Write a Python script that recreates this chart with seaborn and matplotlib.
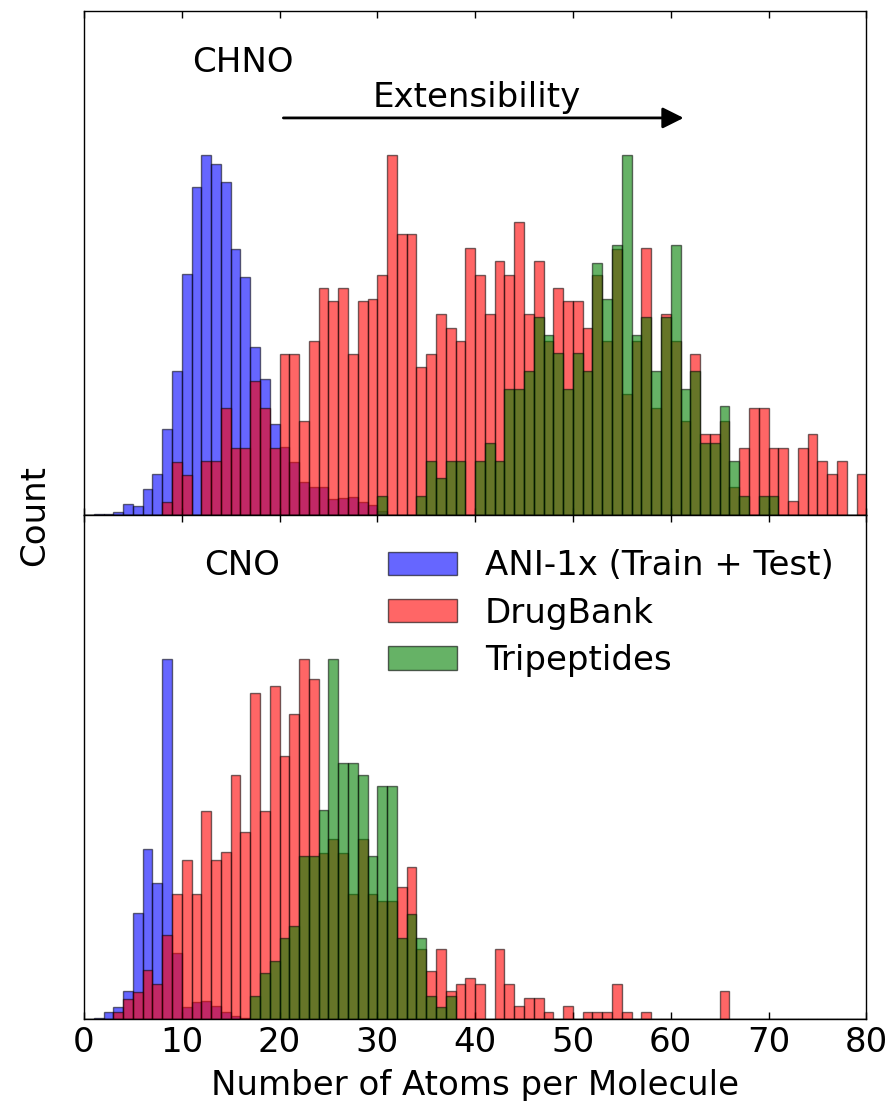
import numpy as np
import pandas as pd
import matplotlib
matplotlib.use('Agg')
import matplotlib.pyplot as plt
from matplotlib.patches import Patch
import seaborn as sns

# bin heights (scaled so that each peak = 1), one bin per atom count 0..79
atoms = np.arange(80)

chno_ani = [0, 0.002, 0.004, 0.009, 0.031, 0.026, 0.072, 0.114, 0.238, 0.40,
            0.67, 0.91, 1.0, 0.975, 0.926, 0.74, 0.66, 0.467, 0.377, 0.254,
            0.19, 0.148, 0.092, 0.077, 0.077, 0.044, 0.048, 0.049, 0.037, 0.028,
            0.01] + [0] * 49
chno_drug = [0] * 8 + [0.035, 0.148, 0.11, 0, 0.15, 0.15, 0.298, 0.187, 0.187, 0.372,
             0.298, 0.187, 0.446, 0.446, 0.261, 0.483, 0.63, 0.594, 0.63, 0.446,
             0.594, 0.60, 0.668, 1.0, 0.78, 0.78, 0.41, 0.446, 0.557, 0.52,
             0.483, 0.741, 0.668, 0.557, 0.705, 0.668, 0.815, 0.557, 0.705, 0.483,
             0.63, 0.594, 0.594, 0.52, 0.668, 0.483, 0.74, 0.335, 0.483, 0.741,
             0.298, 0.557, 0.483, 0.261, 0.446, 0.224, 0.224, 0.261, 0.077, 0.187,
             0.298, 0.298, 0.187, 0.187, 0.04, 0.187, 0.224, 0.15, 0.114, 0.15,
             0, 0.114]
chno_tri = [0] * 30 + [0.054, 0, 0, 0, 0.054, 0.15, 0.102, 0.15, 0.15, 0,
            0.15, 0.2, 0.15, 0.35, 0.35, 0.40, 0.55, 0.50, 0.45, 0.35,
            0.45, 0.40, 0.70, 0.60, 0.75, 1.0, 0.50, 0.55, 0.40, 0.55,
            0.75, 0.35, 0.40, 0.2, 0.2, 0.303, 0.15, 0.054, 0, 0.054,
            0.054] + [0] * 9

cno_ani = [0, 0.004, 0.019, 0.033, 0.079, 0.293, 0.473, 0.377, 1.0, 0.182,
           0.032, 0.046, 0.051, 0.037, 0.019, 0.009, 0.004] + [0] * 63
cno_drug = [0, 0, 0, 0.019, 0.056, 0.074, 0.135, 0.096, 0.232, 0.346,
            0.443, 0.346, 0.578, 0.443, 0.464, 0.677, 0.52, 0.905, 0.578, 0.924,
            0.731, 0.847, 1.0, 0.944, 0.462, 0.50, 0.462, 0.346, 0.50, 0.346,
            0.327, 0.327, 0.366, 0.423, 0.193, 0.134, 0.193, 0.077, 0.097, 0.114,
            0.097, 0, 0.193, 0.097, 0.037, 0.058, 0.058, 0.019, 0, 0.037,
            0, 0.019, 0.019, 0.019, 0.097, 0.019, 0, 0.019, 0, 0,
            0, 0, 0, 0, 0, 0.077] + [0] * 14
cno_tri = [0] * 17 + [0.063, 0.128, 0.16, 0.225, 0.258, 0.453, 0.453, 0.58, 1.0,
           0.71, 0.71, 0.677, 0.453, 0.646, 0.646, 0.225, 0.292, 0.225, 0.065,
           0.032, 0.065] + [0] * 42

labels = ['ANI-1x (Train + Test)', 'DrugBank', 'Tripeptides']
colors = ['#0000ff', '#ff0000', '#008000']

sns.set_theme(style='ticks')
plt.rcParams['font.family'] = ['DejaVu Sans']
plt.rcParams['xtick.direction'] = 'in'
plt.rcParams['ytick.direction'] = 'in'
plt.rcParams['xtick.top'] = True
plt.rcParams['axes.edgecolor'] = 'black'
plt.rcParams['axes.linewidth'] = 1.0
plt.rcParams['text.color'] = 'black'
plt.rcParams['axes.labelcolor'] = 'black'
plt.rcParams['xtick.color'] = 'black'
plt.rcParams['ytick.color'] = 'black'

fs = 24.5
edge = (0, 0, 0, 0.55)
fig, (ax1, ax2) = plt.subplots(2, 1, figsize=(8.94, 11.01), dpi=100, sharex=True)
fig.subplots_adjust(left=0.094, right=0.969, top=0.990, bottom=0.0745, hspace=0)

for ax, sets in [(ax1, [chno_ani, chno_drug, chno_tri]), (ax2, [cno_ani, cno_drug, cno_tri])]:
    for vals, c in zip(sets, colors):
        df = pd.DataFrame({'atoms': atoms + 0.5, 'h': vals})
        sns.histplot(data=df, x='atoms', weights='h', binwidth=1, binrange=(0, 80),
                     color=c, alpha=0.6, edgecolor=edge, linewidth=1.0, ax=ax)
    ax.set_xlim(0, 80)
    ax.set_ylim(0, 1.4)
    ax.set_yticks([])
    ax.set_ylabel('')
    ax.tick_params(axis='x', length=5, width=1, labelsize=fs, pad=5)
    for s in ax.spines.values():
        s.set_visible(True)

ax1.tick_params(axis='x', labelbottom=False)
ax1.set_xlabel('')
ax2.set_xticks(range(0, 81, 10))
ax2.set_xlabel('Number of Atoms per Molecule', fontsize=fs, labelpad=7)

ax1.text(16.2, 1.231, 'CHNO', fontsize=fs, ha='center', va='baseline')
ax2.text(16.2, 1.233, 'CNO', fontsize=fs, ha='center', va='baseline')
ax1.text(40.2, 1.133, 'Extensibility', fontsize=fs, ha='center', va='baseline')
ax1.annotate('', xy=(61.6, 1.103), xytext=(20.1, 1.103),
             arrowprops=dict(arrowstyle='-|>', color='black', lw=2, mutation_scale=32))

fig.text(0.039, 0.532, 'Count', rotation=90, fontsize=fs, ha='center', va='center')

handles = [Patch(facecolor=c, edgecolor=edge, alpha=0.6, linewidth=1.0) for c in colors]
ax2.legend(handles, labels, loc='upper left', bbox_to_anchor=(0.389, 0.932), frameon=False,
           fontsize=fs, handlelength=2.03, handleheight=0.68, handletextpad=0.8,
           labelspacing=0.42, borderpad=0, borderaxespad=0)

fig.savefig('out.png', dpi=100)
